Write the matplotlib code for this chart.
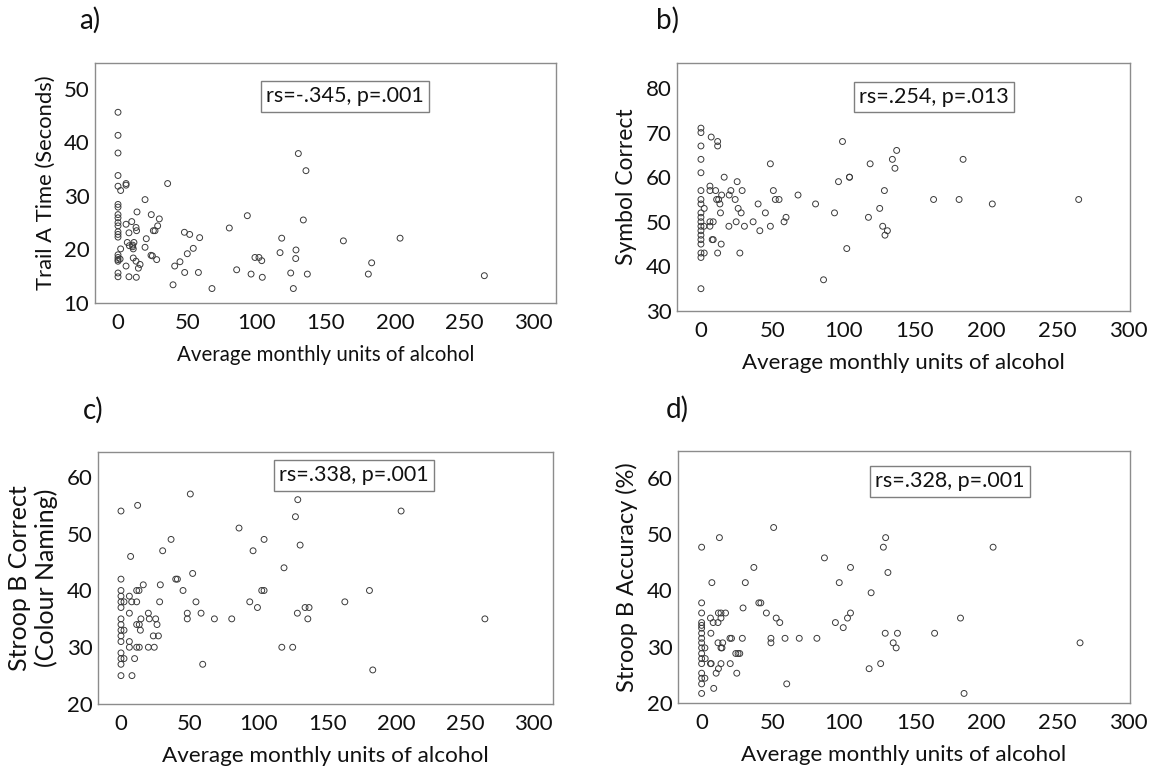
import numpy as np
import matplotlib
matplotlib.use('Agg')
import matplotlib.pyplot as plt

plt.rcParams['font.family'] = ['Lato', 'DejaVu Sans']

# 1. DATA
# a) Trail A time
a_x0 = [45.6, 41.3, 38.0, 33.8, 31.8, 28.4, 27.9, 26.5, 25.9, 25.0, 24.4, 23.3, 22.8, 22.3,
        19.0, 18.5, 18.1, 17.8, 15.6, 14.9]
a_x = [1.9, 5.8, 5.8, 35.8, 19.5, 13.7, 24.0, 29.8, 5.8, 9.9, 13.0, 13.4, 28.6, 25.5, 26.7, 7.9,
       20.4, 6.7, 8.2, 10.6, 11.5, 10.6, 11.0, 19.5, 1.9, 23.8, 24.8, 11.0, 13.0, 15.9, 14.7, 5.8,
       27.9, 1.5, 7.9, 13.2, 47.9, 51.7, 58.9, 54.3, 50.0, 44.7, 40.9, 48.1, 58.0, 39.7, 67.8,
       80.3, 93.3, 85.6, 96.0, 98.8, 101.7, 103.7, 104.1, 118.1, 116.9, 128.4, 128.2, 124.6,
       126.5, 136.6, 130.1, 135.6, 133.7, 162.6, 203.5, 183.0, 180.6, 264.3]
a_y = [31.0, 32.0, 32.3, 32.3, 29.3, 27.0, 26.5, 25.7, 24.7, 25.2, 24.1, 23.5, 24.4, 23.5, 23.5, 23.1,
       22.0, 21.3, 20.7, 20.8, 21.3, 20.5, 20.1, 20.4, 20.1, 18.9, 18.8, 18.4, 17.8, 17.2, 16.5, 16.9,
       18.1, 18.2, 14.9, 14.8, 23.2, 22.8, 22.2, 20.2, 19.2, 17.7, 16.9, 15.7, 15.7, 13.4, 12.7,
       24.0, 26.3, 16.2, 15.4, 18.5, 18.5, 17.9, 14.8, 22.1, 19.4, 19.9, 18.3, 15.6,
       12.7, 15.4, 37.9, 34.7, 25.5, 21.6, 22.1, 17.5, 15.4, 15.1]

# b) Symbol correct
b_x0 = [71, 70, 67, 64, 61, 57, 55, 54, 52, 51, 50, 49, 48, 47, 46, 45, 43, 42, 35]
b_x = [7.2, 11.7, 11.7, 16.3, 6.3, 6.3, 10.3, 25.4, 21.0, 28.9, 19.8, 14.5, 11.0, 12.4, 24.0, 13.3,
       2.3, 26.1, 13.7, 28.2, 6.3, 8.6, 24.7, 6.3, 2.1, 19.6, 30.5, 7.9, 8.6, 14.2, 11.7, 2.3, 27.3,
       48.7, 40.1, 50.8, 52.2, 54.8, 45.2, 36.6, 41.3, 48.7, 58.3, 59.7, 68.1, 80.4, 93.7, 86.0,
       96.5, 99.3, 104.2, 104.2, 102.3, 117.5, 118.7, 125.4, 128.7, 127.5, 130.8, 129.1, 134.3,
       137.3, 136.1, 183.9, 163.2, 181.1, 204.4, 265.0]
b_y = [69, 68, 67, 60, 58, 57, 57, 59, 57, 57, 56, 56, 55, 55, 55, 54,
       53, 53, 52, 52, 50, 50, 50, 49, 49, 49, 49, 46, 46, 45, 43, 43, 43,
       63, 54, 57, 55, 55, 52, 50, 48, 49, 50, 51, 56, 54, 52, 37,
       59, 68, 60, 60, 44, 51, 63, 53, 57, 49, 48, 47, 64,
       66, 62, 64, 55, 55, 54, 55]

# c) Stroop B correct (colour naming)
c_x0 = [54, 42, 40, 39, 38, 37, 35, 34, 33, 32, 31, 29, 28, 27, 25]
c_x = [12.1, 7.0, 50.4, 36.4, 30.3, 52.1, 39.8, 41.0, 16.2, 28.6, 11.4, 13.1, 45.1, 6.1, 2.2, 7.8,
       11.4, 28.1, 54.5, 6.1, 19.9, 48.2, 58.2, 14.5, 20.6, 25.2, 48.2, 67.9, 80.5, 11.4, 13.3, 26.2,
       2.2, 14.1, 23.5, 27.2, 6.1, 6.1, 11.4, 13.3, 19.9, 24.2, 2.2, 9.9, 59.4, 8.0, 85.8, 96.0,
       104.0, 102.3, 104.0, 93.6, 99.2, 118.5, 116.9, 124.8, 128.5, 126.8, 130.2, 128.2, 133.8,
       136.7, 135.8, 203.6, 180.6, 162.7, 264.5, 183.0]
c_y = [55, 46, 57, 49, 47, 43, 42, 42, 41, 41, 40, 40, 40, 39, 38, 38,
       38, 38, 38, 36, 36, 36, 36, 35, 35, 35, 35, 35, 35, 34, 34, 34,
       33, 33, 32, 32, 31, 30, 30, 30, 30, 30, 28, 28, 27, 25, 51, 47,
       49, 40, 40, 38, 37, 44, 30, 30, 56, 53, 48, 36, 37,
       37, 35, 54, 40, 38, 35, 26]

# d) Stroop B accuracy (%)
d_x0 = [47.7, 37.8, 36.0, 34.3, 33.8, 33.3, 32.4, 31.5, 30.7, 29.8, 28.8, 27.9, 27.0, 25.3,
        24.4, 23.4, 21.7]
d_x = [12.5, 7.2, 50.6, 36.7, 30.7, 40.2, 41.6, 29.1, 45.5, 11.8, 13.6, 16.8, 6.2, 13.6, 8.1, 11.5,
       52.4, 54.9, 6.5, 11.5, 14.8, 13.6, 14.3, 19.9, 21.0, 28.6, 24.0, 25.6, 26.8, 2.3, 2.5, 6.2,
       6.7, 13.6, 20.1, 11.8, 10.2, 24.7, 2.3, 8.5, 48.7, 48.7, 58.6, 59.8, 68.6, 81.0, 86.3,
       96.7, 104.6, 94.0, 99.5, 102.5, 104.6, 119.1, 117.7, 125.8, 127.7, 129.3, 130.9, 129.0,
       137.6, 134.6, 136.7, 204.8, 181.9, 163.7, 265.9, 184.4]
d_y = [49.4, 41.4, 51.2, 44.1, 41.4, 37.8, 37.8, 36.9, 36.0, 36.0, 36.0, 36.0, 35.1, 35.1, 34.3, 34.3,
       35.1, 34.3, 32.4, 30.7, 30.7, 29.8, 29.8, 31.5, 31.5, 31.5, 28.8, 28.8, 28.8, 29.8, 27.9, 27.0,
       27.0, 27.0, 27.0, 26.1, 25.3, 25.3, 24.4, 22.6, 31.5, 30.7, 31.5, 23.4, 31.5, 31.5, 45.8,
       41.4, 44.1, 34.3, 33.4, 35.1, 36.0, 39.6, 26.1, 27.0, 47.7, 49.4, 43.2, 32.4,
       32.4, 30.7, 29.8, 47.7, 35.1, 32.4, 30.7, 21.7]

x_ticks = [0, 50, 100, 150, 200, 250, 300]
x_label = 'Average monthly units of alcohol'

# 2. PANEL SETTINGS
W, H = 1170, 774
panels = [
    dict(tag='a)', box=(95, 63, 556, 303), x0=a_x0, x=a_x, y=a_y, xlim=(-16.6, 316), ylim=(10.3, 54.8),
         yticks=[10, 20, 30, 40, 50], ylabel='Trail A Time (Seconds)', stat='rs=-.345, p=.001',
         stat_pos=(0.542, 0.862), tag_pos=(90, 20), xl_size=14.8, yl_size=15.8),
    dict(tag='b)', box=(677, 63, 1130, 311), x0=b_x0, x=b_x, y=b_y, xlim=(-16.8, 301), ylim=(30.2, 85.6),
         yticks=[30, 40, 50, 60, 70, 80], ylabel='Symbol Correct', stat='rs=.254, p=.013',
         stat_pos=(0.567, 0.863), tag_pos=(667, 20), xl_size=16, yl_size=16.5),
    dict(tag='c)', box=(98, 452, 553, 704), x0=c_x0, x=c_x, y=c_y, xlim=(-16.7, 314), ylim=(20, 64.4),
         yticks=[20, 30, 40, 50, 60], ylabel='Stroop B Correct\n(Colour Naming)', stat='rs=.338, p=.001',
         stat_pos=(0.563, 0.907), tag_pos=(93, 410), xl_size=16.2, yl_size=18),
    dict(tag='d)', box=(678, 451, 1130, 703), x0=d_x0, x=d_x, y=d_y, xlim=(-16.6, 301), ylim=(20, 64.8),
         yticks=[20, 30, 40, 50, 60], ylabel='Stroop B Accuracy (%)', stat='rs=.328, p=.001',
         stat_pos=(0.602, 0.879), tag_pos=(677, 409), xl_size=16.1, yl_size=17),
]

# 3. FIGURE
fig = plt.figure(figsize=(W / 100, H / 100), dpi=100)

for p in panels:
    l, t, r, b = p['box']
    ax = fig.add_axes([l / W, 1 - b / H, (r - l) / W, (b - t) / H])

    xs = [0] * len(p['x0']) + p['x']
    ys = p['x0'] + p['y']
    ax.scatter(xs, ys, s=18, facecolors='none', edgecolors='#3a3a3a', linewidths=0.7)

    ax.set_xlim(*p['xlim'])
    ax.set_ylim(*p['ylim'])
    ax.set_xticks(x_ticks)
    ax.set_yticks(p['yticks'])
    ax.tick_params(length=0, labelsize=16, colors='#111111')
    ax.tick_params(axis='x', pad=7)
    ax.tick_params(axis='y', pad=4)
    for s in ax.spines.values():
        s.set_color('#8c8c8c')
        s.set_linewidth(1.0)

    ax.set_xlabel(x_label, fontsize=p['xl_size'], color='#111111', labelpad=9)
    ax.set_ylabel(p['ylabel'], fontsize=p['yl_size'], color='#111111', labelpad=6)

    ax.text(p['stat_pos'][0], p['stat_pos'][1], p['stat'], transform=ax.transAxes,
            ha='center', va='center', fontsize=15.5, color='#111111',
            bbox=dict(boxstyle='square,pad=0.25', facecolor='white', edgecolor='#7f7f7f', linewidth=1.0))

    fig.text(p['tag_pos'][0] / W, 1 - p['tag_pos'][1] / H, p['tag'], fontsize=20,
             ha='center', va='center', color='#111111')

plt.savefig('out.png', dpi=100)
